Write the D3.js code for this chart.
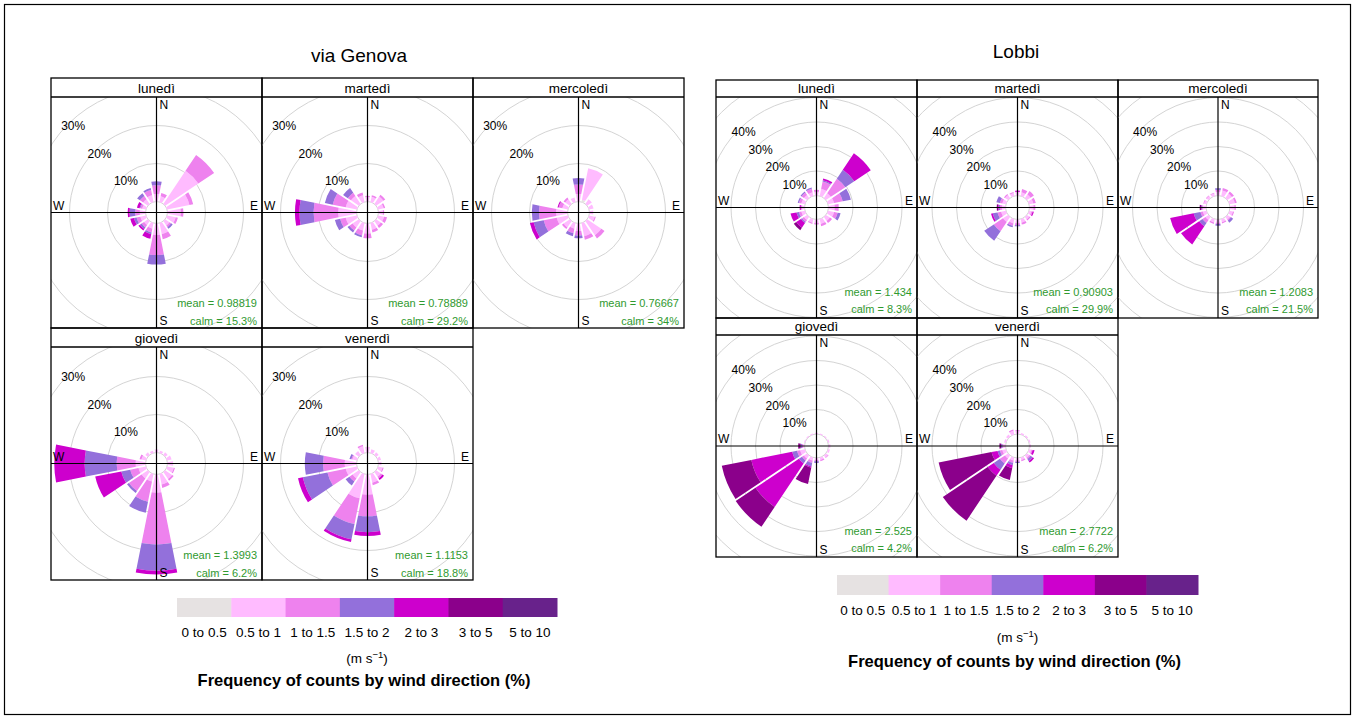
<!DOCTYPE html>
<html><head><meta charset="utf-8">
<script src="https://cdn.jsdelivr.net/npm/d3@7"></script>
<style>body{margin:0;background:#fff} svg{display:block} text{font-family:Arial,'Liberation Sans',sans-serif}</style>
</head><body><svg id="chart" width="1355" height="719"></svg>
<script>
// ---------------- DATA ----------------
const days = ["lunedì","martedì","mercoledì","giovedì","venerdì"];
const directions = ["N","NNE","NE","ENE","E","ESE","SE","SSE","S","SSW","SW","WSW","W","WNW","NW","NNW"];
const speedBins = ["0 to 0.5","0.5 to 1","1 to 1.5","1.5 to 2","2 to 3","3 to 5","5 to 10"];
const speedColors = ["#e6e2e2","#ffbbff","#ee82ee","#9370db","#cd00cd","#8b008b","#68228b"];
const genovaTicks = [10,20,30];
const lobbiTicks = [10,20,30,40];
const genovaMeans = ["0.98819","0.78889","0.76667","1.3993","1.1153"];
const genovaCalms = ["15.3%","29.2%","34%","6.2%","18.8%"];
const lobbiMeans = ["1.434","0.90903","1.2083","2.525","2.7722"];
const lobbiCalms = ["8.3%","29.9%","21.5%","4.2%","6.2%"];

// frequency (%) per direction (N clockwise), per speed bin
const genovaLunedi = [
 [0,2.0,2.3,1.0],[0,1.5,0.9],[0,10.5,5.0],[0,6.0,1.0],[0,3.5,0.7],[0,2.3,0.6],[0,1.4,0.5,0.5],[0,3.0,1.3],
 [0,3.0,5.3,2.5],[0,1.5,1.0,0.5,1.2],[0,1.2,0.8,0.5,0.5],[0,1.5,1.0,0.7,1.0],[0,1.5,1.2,1.5,0.5],[0,1.0,0.5,0.2,0.7],[0,1.5,1.0,0.9],[0,1.8,1.4,0.5]];
const genovaMartedi = [
 [0,1.2,0.3],[0,1.4,0.4],[0,2.3,0.6],[0,1.5,0.4],[0,1.2,0.3],[0,1.6,0.8],[0,1.5,0.7],[0,1.8,0.7],
 [0,2.6,1.3],[0,2.0,1.3,0.5],[0,2.0,1.0,0.6],[0,3.0,1.5,1.4],[0,4.8,6.5,3.7,1.2],[0,3.0,3.5,2.1],[0,2.5,1.0,1.5],[0,1.8,0.7]];
const genovaMercoledi = [
 [0,2.0,2.5,1.7],[0.6,8.4],[0,1.5],[0,1.2],[0,1.0],[0,1.5,0.3],[0,4.5,1.0],[0,3.5,1.0],
 [0,2.0,1.2,0.7],[0,1.5,1.2,0.8],[0,2.0,0.5],[0,3.0,3.5,2.7,1.0],[0,3.0,4.5,1.9],[0,1.5,1.0,0,0.3],[0,1.5,0.5],[0,1.2]];
const genovaGiovedi = [
 [0,0.8],[0,0.6],[0,0.8],[0,1.2],[0,1.5],[0,1.8,0.3],[0,2.2,0.5],[0,2.8,0.9],
 [0,4.8,13.6,6.9,1.0],[0,2.0,5.4,3.0],[0,2.0,4.0,0.6],[0,2.0,2.2,2.4,7.0],[0,2.6,5.0,8.4,8.0],[0,1.2,0.5],[0,0.8],[0,0.6]];
const genovaVenerdi = [
 [0,1.5],[0,1.0],[0,0.8],[0,0.8],[0,0.8],[0,1.2,0.3],[0,1.5,0.5,0,0.5],[0,2.3,0.7],
 [0,5.3,5.7,4.2,1.0],[0,6.5,6.9,4.1,0.7],[0,2.0,1.0,1.2],[0,3.0,4.9,6.6,1.3],[0,3.1,5.7,4.8],[0,1.2,0.3,0.5],[0,1.2],[0,1.8,0.4]];

const lobbiLunedi = [
 [0,1.5,0.8],[0,3.0,3.0,0.5,0.8],[0,2.4,7.1,4.4,8.1],[0,2.5,3.6,3.4],[0,2.5,1.7],[0,2.5,1.5,1.2],[0,2.0,1.0],[0,2.0,1.0],
 [0,1.5,0.5],[0,1.5,0.5],[0,1.5,1.0,0.5,2.3,1.2],[0,1.5,1.0,1.0,2.5],[0,1.0,0.5,0,0.5],[0,1.5,1.0,0.5],[0,1.5,1.2,0.5],[0,1.5,1.5,0.5]];
const lobbiMartedi = [
 [0,1.5,0,0,0.5],[0,1.5,1.4],[0,1.8,1.6],[0,1.8,1.0],[0,1.6,0.8],[0,1.0,0.5,0,0.5],[0,1.2,0.5],[0,1.5,0.8],
 [0,1.5,0.8,0.5],[0,1.8,1.0,0.6],[0,2.5,4.5,4.7],[0,2.0,1.5,2.0,0.7],[0,1.5,0.8,0.5,0.3,0.5],[0,1.5,1.0,1.5],[0,1.5,0.5],[0,1.2,0.4]];
const lobbiMercoledi = [
 [0,1.5,0.8,0.7],[0,2.3,1.0],[0,2.2,1.0],[0,2.2,0.8],[0,1.8,0.6],[0,1.4,0.5],[0,1.3,0.5,1.0],[0,1.3,0.5],
 [0,1.3,0.5,0.7],[0,1.4,0.6],[0,1.5,1.5,1.6,8.9],[0,1.5,1.0,2.8,9.8],[0,1.2,0.4,0.3,0,0.7],[0,1.0,0.3],[0,1.0,0.3],[0,1.0,0.3]];
const lobbiGiovedi = [
 [0,0.5],[0,0.4],[0,0.4],[0,0.6],[0,0.8],[0,0.8],[0,1.0,0.3],[0,1.0,0.5],
 [0,0.8,0.5,0.7],[0,1.2,1.0,1.5,0.5,6.8],[0,1.5,1.0,1.5,21.3,9.7],[0,2.0,1.3,2.0,17.0,12.3],[0,0.6,0.5,0.5,0,1.0],[0,0.4],[0,0.4],[0,0.4]];
const lobbiVenerdi = [
 [0,1.2,0.4],[0,0.6],[0,0.6],[0,0.6],[0,0.6],[0,1.0,0.5,0,0.8],[0,1.2,0.6,1.0,0.7],[0,1.0,0.5],
 [0,1.0,0.6,0.4],[0,1.2,1.0,1.0,1.2,4.9],[0,1.5,2.5,3.0,3.0,22.0],[0,1.5,1.0,1.0,2.5,22.0],[0,1.0,0.3,0.5,0,0.7],[0,0.8],[0,1.0],[0,1.5,0.5]];

const genovaData = [genovaLunedi, genovaMartedi, genovaMercoledi, genovaGiovedi, genovaVenerdi];
const lobbiData = [lobbiLunedi, lobbiMartedi, lobbiMercoledi, lobbiGiovedi, lobbiVenerdi];

// ---------------- LAYOUT ----------------
const svg = d3.select("#chart");
svg.append("rect").attr("x",4.5).attr("y",4.5).attr("width",1346).attr("height",710)
  .attr("fill","none").attr("stroke","#000").attr("stroke-width",1.2);

const colorScale = d3.scaleOrdinal().domain(speedBins).range(speedColors);
const dirScale = d3.scaleBand().domain(directions).range([0, 2*Math.PI]);
const step = 2*Math.PI/directions.length;

const groups = [
  {id:"gen", title:"via Genova", titleX:359, titleY:62, data:genovaData, means:genovaMeans, calms:genovaCalms, ticks:genovaTicks,
   cols:[51,262,473,684], rows:[{s:78,b:97,e:328},{s:328,b:347,e:580}], radius:d3.scaleLinear().domain([0,10]).range([11,49]),
   ringMax:40, meanDy:21, calmDy:3,
   legend:{x0:177,x1:557,y:598,h:19,lab:637,unit:663,title:686}},
  {id:"lob", title:"Lobbi", titleX:1016, titleY:58, data:lobbiData, means:lobbiMeans, calms:lobbiCalms, ticks:lobbiTicks,
   cols:[716,917,1118,1318], rows:[{s:80,b:97,e:318},{s:318,b:335,e:557}], radius:d3.scaleLinear().domain([0,10]).range([12,36.5]),
   ringMax:50, meanDy:22, calmDy:5,
   legend:{x0:837,x1:1198,y:575,h:20,lab:615,unit:642,title:667}}
];

const arc = d3.arc().padAngle(0.018).padRadius(100);

groups.forEach(g => {
  svg.append("text").attr("x",g.titleX).attr("y",g.titleY).attr("text-anchor","middle")
    .attr("font-size",19).text(g.title);

  g.data.forEach((panelData, p) => {
    const row = g.rows[p < 3 ? 0 : 1];
    const col = p % 3;
    const x0 = g.cols[col], x1 = g.cols[col+1];
    const cx = (x0+x1)/2, cy = (row.b+row.e)/2;
    const clipId = `clip-${g.id}-${p}`;
    svg.append("clipPath").attr("id",clipId).append("rect")
      .attr("x",x0).attr("y",row.b).attr("width",x1-x0).attr("height",row.e-row.b);
    const pg = svg.append("g");
    const body = pg.append("g").attr("clip-path",`url(#${clipId})`);
    const rg = body.append("g").attr("transform",`translate(${cx},${cy})`);
    // rings
    const ringVals = d3.range(0, g.ringMax+1, 10);
    rg.selectAll("circle.ring").data(ringVals).join("circle").attr("class","ring")
      .attr("r",d=>g.radius(d)).attr("fill","none").attr("stroke","#d4d4d4").attr("stroke-width",1);
    // wedges
    const segs = [];
    panelData.forEach((rowVals, i) => {
      const vals = speedBins.map((_,k)=>rowVals[k]||0);
      const a = dirScale(directions[i]);
      let cum = 0;
      vals.forEach((v,k) => {
        if (v > 0) segs.push({dir:directions[i], a, lo:cum, hi:cum+v, bin:speedBins[k]});
        cum += v;
      });
    });
    rg.selectAll("path.seg").data(segs).join("path").attr("class","seg")
      .attr("d", d => arc({innerRadius:g.radius(d.lo), outerRadius:g.radius(d.hi), startAngle:d.a-step/2, endAngle:d.a+step/2}))
      .attr("fill", d => colorScale(d.bin));
    // axes
    body.append("line").attr("x1",cx).attr("x2",cx).attr("y1",row.b).attr("y2",row.e).attr("stroke","#000").attr("stroke-width",1.2);
    body.append("line").attr("x1",x0).attr("x2",x1).attr("y1",cy).attr("y2",cy).attr("stroke","#000").attr("stroke-width",1.2);
    // percentage labels
    const la = -44*Math.PI/180;
    body.selectAll("text.pct").data(g.ticks).join("text").attr("class","pct")
      .attr("x", d => cx + (g.radius(d)-5)*Math.sin(la))
      .attr("y", d => cy - (g.radius(d)-5)*Math.cos(la))
      .attr("text-anchor","middle").attr("dominant-baseline","central").attr("font-size",12)
      .text(d => d + "%");
    // compass letters
    body.append("text").attr("x",cx+3).attr("y",row.b+12).attr("font-size",12).text("N");
    body.append("text").attr("x",cx+3).attr("y",row.e-3).attr("font-size",12).text("S");
    body.append("text").attr("x",x0+2).attr("y",cy-3).attr("font-size",12).text("W");
    body.append("text").attr("x",x1-4).attr("y",cy-3).attr("font-size",12).attr("text-anchor","end").text("E");
    // mean / calm
    body.append("text").attr("x",x1-5).attr("y",row.e-g.meanDy).attr("text-anchor","end").attr("font-size",11)
      .attr("fill","#2f9a2f").text("mean = " + g.means[p]);
    body.append("text").attr("x",x1-5).attr("y",row.e-g.calmDy).attr("text-anchor","end").attr("font-size",11)
      .attr("fill","#2f9a2f").text("calm = " + g.calms[p]);
    // frame + strip
    pg.append("rect").attr("x",x0).attr("y",row.s).attr("width",x1-x0).attr("height",row.e-row.s)
      .attr("fill","none").attr("stroke","#000").attr("stroke-width",1.3);
    pg.append("line").attr("x1",x0).attr("x2",x1).attr("y1",row.b).attr("y2",row.b).attr("stroke","#000").attr("stroke-width",1.3);
    pg.append("text").attr("x",cx).attr("y",row.b-4).attr("text-anchor","middle").attr("font-size",13.5).text(days[p]);
  });

  // legend
  const L = g.legend;
  const lx = d3.scaleBand().domain(speedBins).range([L.x0, L.x1]);
  const lg = svg.append("g");
  lg.selectAll("rect").data(speedBins).join("rect")
    .attr("x", d => lx(d)).attr("y", L.y).attr("width", lx.bandwidth()+0.5).attr("height", L.h)
    .attr("fill", d => colorScale(d));
  lg.selectAll("text.lab").data(speedBins).join("text").attr("class","lab")
    .attr("x", d => lx(d)+lx.bandwidth()/2).attr("y", L.lab).attr("text-anchor","middle").attr("font-size",13.5)
    .text(d => d);
  const u = lg.append("text").attr("x",(L.x0+L.x1)/2).attr("y",L.unit).attr("text-anchor","middle").attr("font-size",13.5);
  u.append("tspan").text("(m s");
  u.append("tspan").attr("dy",-5).attr("font-size",9.5).text("−1");
  u.append("tspan").attr("dy",5).text(")");
  lg.append("text").attr("x",(L.x0+L.x1)/2 - 3).attr("y",L.title).attr("text-anchor","middle")
    .attr("font-size",16.5).attr("font-weight","bold").text("Frequency of counts by wind direction (%)");
});
</script></body></html>
